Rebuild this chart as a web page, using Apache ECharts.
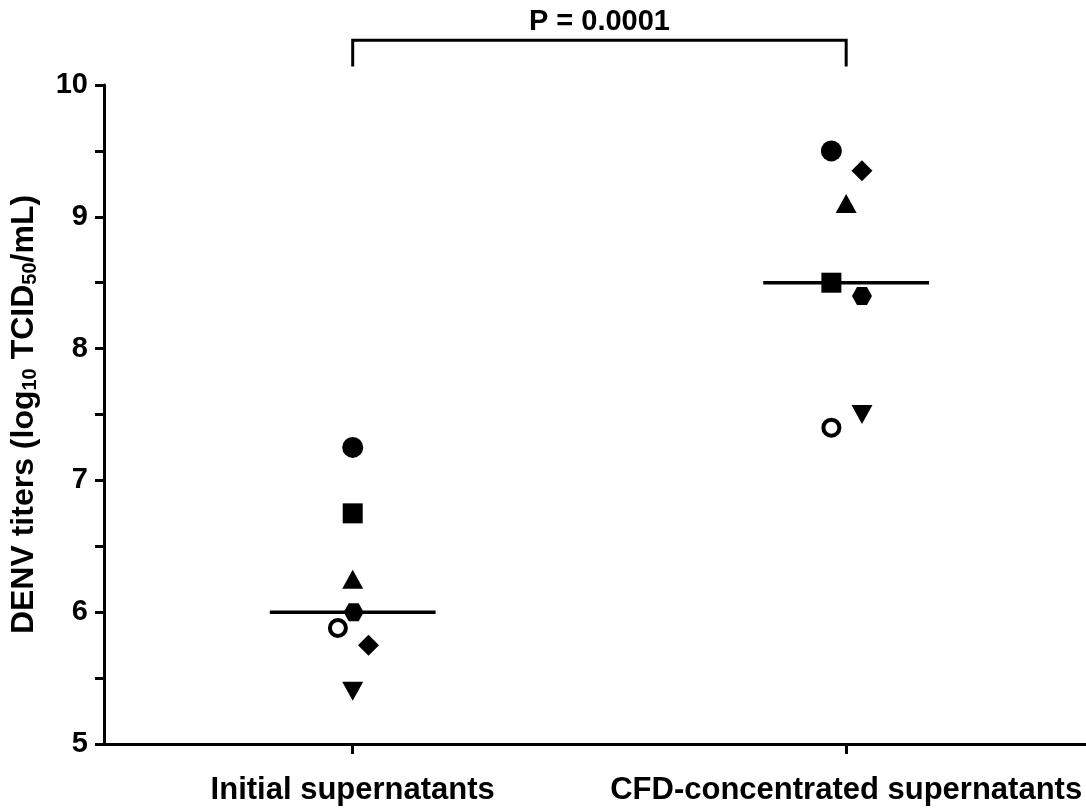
<!DOCTYPE html>
<html>
<head>
<meta charset="utf-8">
<script src="https://cdn.jsdelivr.net/npm/echarts@6/dist/echarts.min.js"></script>
<style>
html,body{margin:0;padding:0;background:#fff;}
#c{width:1086px;height:811px;}
</style>
</head>
<body>
<div id="c"></div>
<script>
// ---- data ----
const categories = ['Initial supernatants', 'CFD-concentrated supernatants'];
const sampleShapes = ['circle', 'square', 'triangleUp', 'hexagon', 'openCircle', 'diamond', 'triangleDown'];
const initialValues = [7.25, 6.75, 6.25, 6.0, 5.88, 5.75, 5.4];
const concentratedValues = [9.5, 8.5, 9.1, 8.4, 7.4, 9.35, 7.5];
// horizontal jitter (category units) as drawn in the figure
const initialJitter = [0, 0, 0, 0.002, -0.03, 0.032, 0];
const concentratedJitter = [-0.03, -0.03, 0, 0.032, -0.03, 0.032, 0.032];
const medians = [6.0, 8.5];
const yTicks = [5, 6, 7, 8, 9, 10];
const pLabel = 'P = 0.0001';

const FONT = '"Liberation Sans", Arial, sans-serif';
const BLACK = {color: '#000', opacity: 1};
const symbolDefs = {
  circle: {symbol: 'circle', symbolSize: 21, itemStyle: BLACK},
  square: {symbol: 'rect', symbolSize: 20, itemStyle: BLACK},
  triangleUp: {symbol: 'triangle', symbolSize: [21, 19], itemStyle: BLACK},
  hexagon: {symbol: 'path://M0,8.66 L5,0 L15,0 L20,8.66 L15,17.32 L5,17.32 Z', symbolSize: [20, 18], symbolKeepAspect: false, itemStyle: BLACK},
  openCircle: {symbol: 'circle', symbolSize: 16, itemStyle: {color: '#fff', borderColor: '#000', borderWidth: 4, opacity: 1}},
  diamond: {symbol: 'diamond', symbolSize: 21, itemStyle: BLACK},
  triangleDown: {symbol: 'triangle', symbolSize: [21, 19], symbolRotate: 180, itemStyle: BLACK}
};

const series = sampleShapes.map((s, i) => Object.assign({
  type: 'scatter',
  name: s,
  z: 5,
  data: [[0 + initialJitter[i], initialValues[i]], [1 + concentratedJitter[i], concentratedValues[i]]]
}, symbolDefs[s]));

const medianHalfWidth = 0.168;
medians.forEach((m, gi) => {
  series.push({
    type: 'line',
    symbol: 'none',
    z: 3,
    lineStyle: {color: '#000', width: 3.5},
    data: [[gi - medianHalfWidth, m], [gi + medianHalfWidth, m]]
  });
});

const chart = echarts.init(document.getElementById('c'), null, {renderer: 'canvas'});
chart.setOption({
  backgroundColor: '#fff',
  animation: false,
  grid: {left: 103, right: 0, top: 85, bottom: 67},
  xAxis: {
    type: 'value',
    min: -0.504,
    max: 1.486,
    splitLine: {show: false},
    axisLine: {show: true, onZero: false, lineStyle: {color: '#000', width: 3}},
    axisTick: {show: true, customValues: [0, 1], length: 10, lineStyle: {color: '#000', width: 3}},
    axisLabel: {
      customValues: [0, 1],
      formatter: v => categories[Math.round(v)],
      margin: 31,
      color: '#000',
      fontFamily: FONT,
      fontWeight: 'bold',
      fontSize: 31
    }
  },
  yAxis: {
    type: 'value',
    min: yTicks[0],
    max: yTicks[yTicks.length - 1],
    interval: 1,
    splitLine: {show: false},
    axisLine: {show: true, onZero: false, lineStyle: {color: '#000', width: 3}},
    axisTick: {show: true, length: 9, lineStyle: {color: '#000', width: 3}},
    minorTick: {show: true, splitNumber: 2, length: 9, lineStyle: {color: '#000', width: 3}},
    axisLabel: {margin: 16, color: '#000', fontFamily: FONT, fontWeight: 'bold', fontSize: 29},
    name: '{a|DENV titers (log}{s|10}{a| TCID}{s|50}{a|/mL)}',
    nameLocation: 'middle',
    nameGap: 64,
    nameTextStyle: {
      rich: {
        a: {fontFamily: FONT, fontWeight: 'bold', fontSize: 32, color: '#000', lineHeight: 36, verticalAlign: 'bottom'},
        s: {fontFamily: FONT, fontWeight: 'bold', fontSize: 20, color: '#000', lineHeight: 31, verticalAlign: 'bottom'}
      }
    }
  },
  series: series
});

// significance bracket (in data units)
const bracketTop = 10.34, bracketLeg = 10.14, pTextY = 10.475;
const pL = chart.convertToPixel({gridIndex: 0}, [0, bracketTop]);
const pR = chart.convertToPixel({gridIndex: 0}, [1, bracketTop]);
const legY = chart.convertToPixel({gridIndex: 0}, [0, bracketLeg])[1];
const tY = chart.convertToPixel({gridIndex: 0}, [0.5, pTextY]);
chart.setOption({
  graphic: [
    {type: 'polyline', shape: {points: [[pL[0], legY], [pL[0], pL[1]], [pR[0], pR[1]], [pR[0], legY]]},
     style: {stroke: '#000', lineWidth: 3, fill: null}, z: 10},
    {type: 'text', x: tY[0], y: tY[1],
     style: {text: pLabel, align: 'center', verticalAlign: 'middle', font: 'bold 29px ' + FONT, fill: '#000'}, z: 10}
  ]
});
</script>
</body>
</html>
